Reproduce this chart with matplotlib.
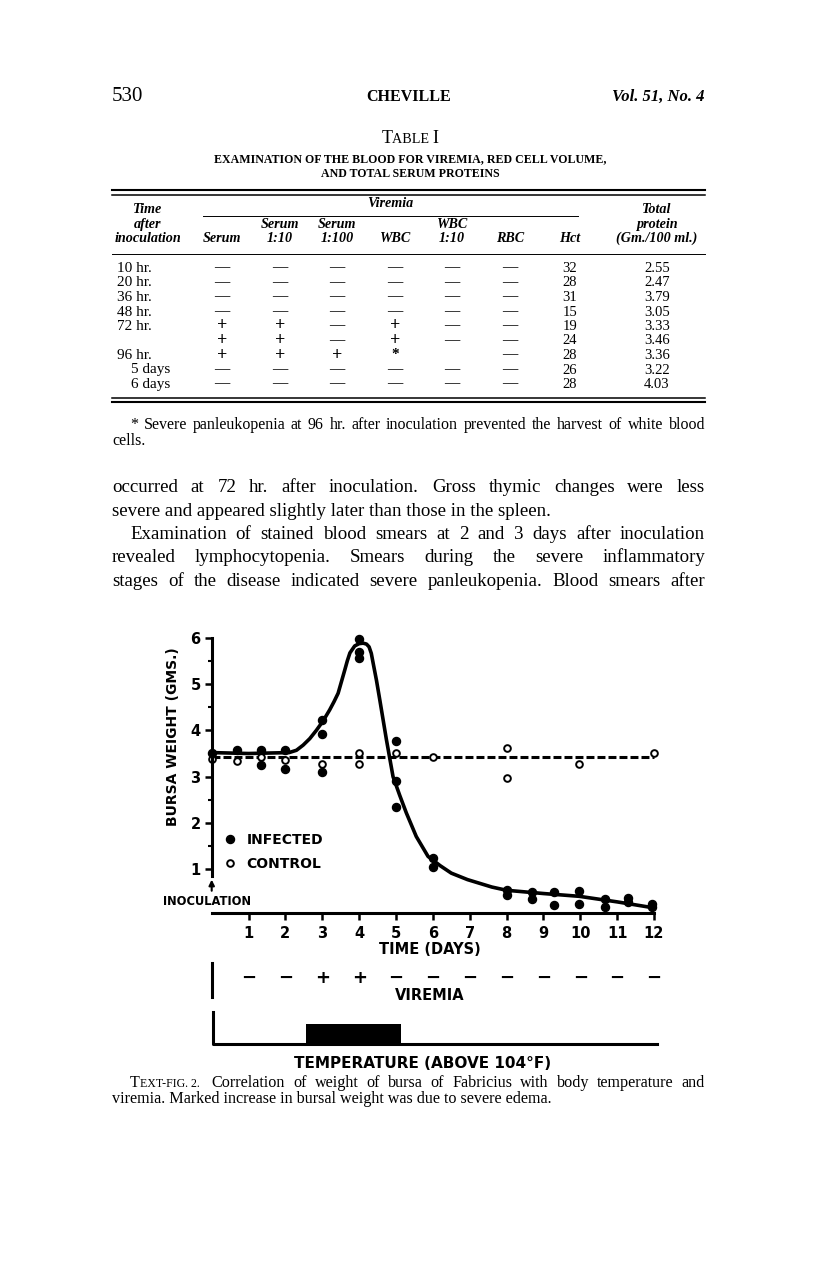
import numpy as np
import matplotlib
matplotlib.use("Agg")
import matplotlib.pyplot as plt
from matplotlib.lines import Line2D

# ---- table I data ----
table_times = ["10 hr.", "20 hr.", "36 hr.", "48 hr.", "72 hr.", "", "96 hr.", "5 days", "6 days"]
serum = ["—", "—", "—", "—", "+", "+", "+", "—", "—"]
serum_10 = ["—", "—", "—", "—", "+", "+", "+", "—", "—"]
serum_100 = ["—", "—", "—", "—", "—", "—", "+", "—", "—"]
wbc = ["—", "—", "—", "—", "+", "+", "*", "—", "—"]
wbc_10 = ["—", "—", "—", "—", "—", "—", "", "—", "—"]
rbc = ["—", "—", "—", "—", "—", "—", "—", "—", "—"]
hct = [32, 28, 31, 15, 19, 24, 28, 26, 28]
protein = [2.55, 2.47, 3.79, 3.05, 3.33, 3.46, 3.36, 3.22, 4.03]

# ---- bursa weight (gms) ----
days_inf = [0, 0.68, 1.35, 1.35, 2.0, 2.0, 3.0, 3.0, 3.0, 4.0, 4.0, 4.0, 5.0, 5.0, 5.0,
            6.0, 6.0, 8.0, 8.0, 8.68, 8.68, 9.3, 9.3, 9.97, 9.97, 10.66, 10.66,
            11.3, 11.3, 11.95, 11.95]
wt_inf = [3.52, 3.58, 3.58, 3.25, 3.58, 3.17, 4.22, 3.92, 3.11, 5.98, 5.70, 5.56, 3.76, 2.90, 2.35,
          1.25, 1.05, 0.55, 0.45, 0.51, 0.36, 0.52, 0.24, 0.54, 0.26, 0.36, 0.19,
          0.39, 0.29, 0.26, 0.19]
days_ctl = [0, 0.68, 1.35, 2.0, 3.0, 4.0, 4.0, 5.0, 6.0, 8.0, 8.0, 9.97, 12.0]
wt_ctl = [3.38, 3.33, 3.42, 3.35, 3.28, 3.52, 3.28, 3.52, 3.42, 3.62, 2.97, 3.28, 3.52]

# hand drawn curves
curve_days = [0, 1.0, 2.1, 2.3, 2.48, 2.66, 2.84, 3.02, 3.2, 3.32, 3.43, 3.52, 3.61, 3.68,
              3.75, 3.88, 4.0, 4.11, 4.2, 4.27, 4.33, 4.38, 4.47, 4.56, 4.65, 4.74, 4.83,
              4.92, 5.1, 5.28, 5.55, 5.87, 6.2, 6.5, 6.94, 7.27, 7.6, 8.0, 9.0, 9.97, 11.0, 12.0]
curve_wt = [3.52, 3.5, 3.52, 3.57, 3.68, 3.82, 4.0, 4.2, 4.44, 4.62, 4.8, 5.05, 5.3, 5.5,
            5.67, 5.82, 5.87, 5.88, 5.86, 5.8, 5.66, 5.45, 5.08, 4.66, 4.23, 3.8, 3.4,
            3.0, 2.6, 2.22, 1.71, 1.28, 1.08, 0.92, 0.78, 0.7, 0.62, 0.55, 0.48, 0.42, 0.3, 0.17]
ctl_line_days = [0, 12]
ctl_line_wt = [3.43, 3.43]

viremia_days = [1, 2, 3, 4, 5, 6, 7, 8, 9, 10, 11, 12]
viremia_signs = ["−", "−", "+", "+", "−", "−", "−", "−", "−", "−", "−", "−"]
temp_start, temp_end = 2.56, 5.13
day_ticks = [1, 2, 3, 4, 5, 6, 7, 8, 9, 10, 11, 12]
wt_ticks = [1, 2, 3, 4, 5, 6]

W, H = 816, 1264
SERIF = "Liberation Serif"
SANS = "DejaVu Sans"

fig = plt.figure(figsize=(W / 100, H / 100), dpi=100)
fig.patch.set_facecolor("white")
page = fig.add_axes([0, 0, 1, 1])
page.set_xlim(0, W)
page.set_ylim(H, 0)
page.axis("off")
r = fig.canvas.get_renderer()


def width(t):
    return t.get_window_extent(renderer=r).width


def justify(line, x0, x1, y, size, **kw):
    # spread the words of one line from x0 to x1
    words = line.split()
    ts = [page.text(0, y, w, fontsize=size, family=SERIF, va="baseline", **kw) for w in words]
    ws = [width(t) for t in ts]
    gap = (x1 - x0 - sum(ws)) / (len(ws) - 1)
    x = x0
    for t, w in zip(ts, ws):
        t.set_x(x)
        x += w + gap


def caps(segs, x, y, ha="left", **kw):
    # small caps made of pieces of different size
    ts = [page.text(0, y, s, fontsize=sz, family=SERIF, va="baseline", **kw) for s, sz in segs]
    ws = [width(t) for t in ts]
    if ha == "center":
        x -= sum(ws) / 2
    for t, w in zip(ts, ws):
        t.set_x(x)
        x += w
    return x


def px_rect(x0, y0, x1, y1):
    return [x0 / W, 1 - y1 / H, (x1 - x0) / W, (y1 - y0) / H]


###  page header ###
page.text(112, 101, "530", fontsize=15, family=SERIF, va="baseline")
page.text(409, 101, "CHEVILLE", fontsize=11.5, family=SERIF, weight="bold", ha="center", va="baseline")
page.text(705, 101, "Vol. 51, No. 4", fontsize=12, family=SERIF, weight="bold", style="italic",
          ha="right", va="baseline")

###  table I ###
caps([("T", 13), ("ABLE ", 10.2), ("I", 13)], 410, 143, ha="center")
page.text(410, 162, "EXAMINATION OF THE BLOOD FOR VIREMIA, RED CELL VOLUME,", fontsize=8.6,
          family=SERIF, weight="bold", ha="center", va="baseline")
page.text(410, 177, "AND TOTAL SERUM PROTEINS", fontsize=8.6, family=SERIF, weight="bold",
          ha="center", va="baseline")

page.plot([112, 705], [190, 190], color="k", lw=1.5)
page.plot([112, 705], [195, 195], color="k", lw=1.1)
page.plot([203, 578], [215.7, 215.7], color="k", lw=0.7)
page.plot([112, 705], [254, 254], color="k", lw=0.7)
page.plot([112, 705], [398, 398], color="k", lw=1.1)
page.plot([112, 705], [402, 402], color="k", lw=1.5)

hk = dict(fontsize=10.2, family=SERIF, style="italic", weight="bold", ha="center", va="baseline")
page.text(148, 213, "Time", **hk)
page.text(148, 228, "after", **hk)
page.text(148, 242, "inoculation", **hk)
page.text(390, 207, "Viremia", **hk)
page.text(657, 213, "Total", **hk)
page.text(657, 228, "protein", **hk)
page.text(657, 242, "(Gm./100 ml.)", **hk)
col_x = [222, 280, 337, 395, 452, 510, 570]
head_top = ["", "Serum", "Serum", "", "WBC", "", ""]
head_bot = ["Serum", "1:10", "1:100", "WBC", "1:10", "RBC", "Hct"]
for x, a, b in zip(col_x, head_top, head_bot):
    page.text(x, 228, a, **hk)
    page.text(x, 242, b, **hk)

for i, t in enumerate(table_times):
    yb = 272 + 14.5 * i
    page.text(117 if "hr" in t else 131, yb, t, fontsize=11, family=SERIF, va="baseline")
    for x, col in zip(col_x[:6], [serum, serum_10, serum_100, wbc, wbc_10, rbc]):
        s = col[i]
        page.text(x, yb - 4, s, fontsize=13 if s == "+" else 11, family=SERIF,
                  weight="bold", ha="center", va="center")
    page.text(570, yb, str(hct[i]), fontsize=10.5, family=SERIF, ha="center", va="baseline")
    page.text(657, yb, "%.2f" % protein[i], fontsize=10.5, family=SERIF, ha="center", va="baseline")

justify("* Severe panleukopenia at 96 hr. after inoculation prevented the harvest of white blood",
        130, 705, 429, 11.5)
page.text(112, 445, "cells.", fontsize=11.5, family=SERIF, va="baseline")

###  body text ###
justify("occurred at 72 hr. after inoculation. Gross thymic changes were less", 112, 705, 492, 13.6)
page.text(112, 515.5, "severe and appeared slightly later than those in the spleen.", fontsize=13.6,
          family=SERIF, va="baseline")
justify("Examination of stained blood smears at 2 and 3 days after inoculation", 130, 705, 539, 13.6)
justify("revealed lymphocytopenia. Smears during the severe inflammatory", 112, 705, 562.5, 13.6)
justify("stages of the disease indicated severe panleukopenia. Blood smears after", 112, 705, 586, 13.6)

###  text-fig. 2 ###
ax = fig.add_axes(px_rect(211.7, 637.6, 654, 913))
ax.set_xlim(0, 12)
ax.set_ylim(0.06, 6)
ax.patch.set_alpha(0)
ax.spines[["top", "right"]].set_visible(False)
ax.spines["left"].set_bounds(0.86, 6)
for s in ["left", "bottom"]:
    ax.spines[s].set_linewidth(2.2)
ax.set_xticks(day_ticks)
ax.set_xticklabels([str(d) for d in day_ticks], fontsize=10.5, fontweight="bold", family=SANS)
ax.set_yticks(wt_ticks)
ax.set_yticklabels([str(v) for v in wt_ticks], fontsize=10.5, fontweight="bold", family=SANS)
ax.set_yticks(np.arange(1.5, 6, 1), minor=True)
ax.tick_params(width=1.8, length=5, pad=3)
ax.tick_params(axis="x", pad=4.5)
ax.tick_params(which="minor", width=1.5, length=3)

ax.plot(curve_days, curve_wt, color="k", lw=2.6, solid_capstyle="round", solid_joinstyle="round",
        clip_on=False)
ax.plot(ctl_line_days, ctl_line_wt, color="k", lw=2.2, dashes=(2.6, 1.0), clip_on=False)
ax.plot(days_inf, wt_inf, "o", color="k", ms=5.8, clip_on=False)
ax.plot(days_ctl, wt_ctl, "o", mfc="white", mec="k", ms=4.8, mew=1.4, clip_on=False)

handles = [Line2D([], [], ls="", marker="o", color="k", ms=5.8),
           Line2D([], [], ls="", marker="o", mfc="white", mec="k", ms=4.8, mew=1.4)]
ax.legend(handles, ["INFECTED", "CONTROL"], loc="upper left", bbox_to_anchor=(0.029, 0.29),
          frameon=False, borderpad=0, borderaxespad=0, handlelength=0.8, handletextpad=0.8,
          labelspacing=0.7, prop=dict(family=SANS, weight="bold", size=10))

ax.annotate("", xy=(0, 0.84), xytext=(0, 0.48), annotation_clip=False,
            arrowprops=dict(arrowstyle="-|>", lw=1.5, color="k", mutation_scale=8))
ax.text(-0.13, 0.3, "INOCULATION", ha="center", va="center", fontsize=8.3, fontweight="bold",
        family=SANS, clip_on=False)

ax.set_ylabel("BURSA WEIGHT (GMS.)", fontsize=10, fontweight="bold", family=SANS)
ax.yaxis.set_label_coords(-0.072, 0.64)
ax.set_xlabel("TIME (DAYS)", fontsize=10.5, fontweight="bold", family=SANS)
ax.xaxis.set_label_coords(0.493, -0.106)

# viremia row
ax_v = fig.add_axes(px_rect(211.7, 955, 654, 1005), sharex=ax)
ax_v.set_ylim(0, 1)
ax_v.axis("off")
ax_v.plot([0, 0], [0.16, 0.84], color="k", lw=2.2, clip_on=False)
for d, s in zip(viremia_days, viremia_signs):
    ax_v.text(d, 0.54, s, ha="center", va="center", fontsize=13, fontweight="bold", family=SANS)
ax_v.text(5.92, 0.18, "VIREMIA", ha="center", va="center", fontsize=10.5, fontweight="bold",
          family=SANS)

# temperature row
ax_t = fig.add_axes(px_rect(211.7, 1005, 654, 1050), sharex=ax)
ax_t.set_ylim(0, 1)
ax_t.axis("off")
ax_t.plot([0.04, 0.04, 12.07], [0.85, 0.133, 0.133], color="k", lw=2.2, clip_on=False)
ax_t.bar(temp_start, 0.445, width=temp_end - temp_start, bottom=0.133, align="edge", color="k")
page.text(423, 1063, "TEMPERATURE (ABOVE 104°F)", fontsize=11, fontweight="bold", family=SANS,
          ha="center", va="center")

# caption
end = caps([("T", 11.6), ("EXT-FIG. 2.", 8.6)], 130, 1087)
justify("Correlation of weight of bursa of Fabricius with body temperature and", end + 12, 705, 1087, 11.6)
page.text(112, 1103, "viremia. Marked increase in bursal weight was due to severe edema.", fontsize=11.6,
          family=SERIF, va="baseline")

fig.savefig("out.png", dpi=100, facecolor="white")
